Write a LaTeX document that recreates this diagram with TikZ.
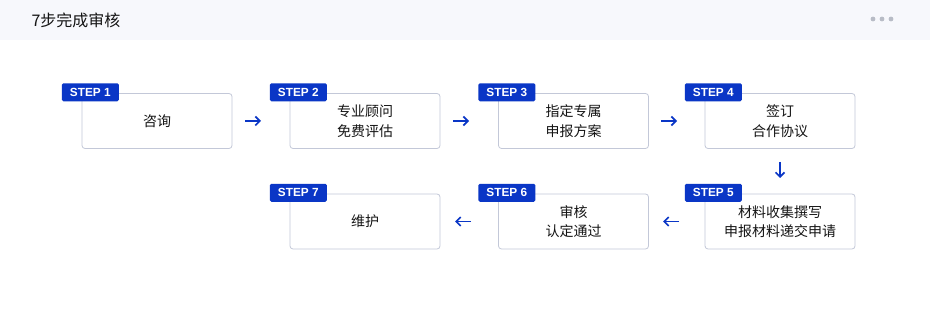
\documentclass[tikz,border=0pt]{standalone}
\usepackage{fontspec}
\setmainfont{Noto Sans CJK SC}
\newfontfamily\stepfont{Liberation Sans}
\usetikzlibrary{arrows.meta}
\definecolor{hdr}{HTML}{F7F8FC}
\definecolor{bord}{HTML}{C3C8D8}
\definecolor{stepblue}{HTML}{0A36C6}
\definecolor{txt}{HTML}{141414}
\definecolor{dotc}{HTML}{B8BCC6}
\tikzset{
  stepbox/.style={draw=bord, line width=0.8pt, rounded corners=3pt, minimum width=150pt, minimum height=55pt, align=center, font=\fontsize{14}{19.5}\selectfont, text=txt, inner sep=0pt},
  steptag/.style={fill=stepblue, rounded corners=1.5pt, minimum width=57pt, minimum height=18pt, inner sep=0pt, text=white, font=\stepfont\bfseries\fontsize{11.8}{12}\selectfont},
  flow/.style={draw=stepblue, line width=1.7pt, -{Straight Barb[length=4.5pt,width=9pt,line width=1.7pt]}}
}
\begin{document}
\begin{tikzpicture}[x=1pt,y=-1pt]
\useasboundingbox (0,0) rectangle (930,320);
\fill[white] (0,0) rectangle (930,320);
\fill[hdr] (0,0) rectangle (930,40);
\node[anchor=west, text=txt, font=\fontsize{16}{18}\selectfont] (title) at (28,20) {7步完成审核};
\foreach \i/\xx in {a/873,b/882,c/891}{\fill[dotc] (\xx,19) circle (2.4pt);}
% boxes
\node[stepbox] (b1) at (157,121) {咨询};
\node[stepbox] (b2) at (365,121) {专业顾问\\免费评估};
\node[stepbox] (b3) at (573.5,121) {指定专属\\申报方案};
\node[stepbox] (b4) at (780,121) {签订\\合作协议};
\node[stepbox] (b5) at (780,221.5) {材料收集撰写\\申报材料递交申请};
\node[stepbox] (b6) at (573.5,221.5) {审核\\认定通过};
\node[stepbox] (b7) at (365,221.5) {维护};
% tags
\foreach \n/\k in {b1/1,b2/2,b3/3,b4/4,b5/5,b6/6,b7/7}{
  \node[steptag, anchor=north west] (t\k) at ([xshift=-20pt,yshift=10pt]\n.north west) {STEP \k};
}
% arrows
\coordinate (a1s) at (245,121); \coordinate (a1e) at (261,121);
\coordinate (a2s) at (453,121); \coordinate (a2e) at (469,121);
\coordinate (a3s) at (661,121); \coordinate (a3e) at (677,121);
\coordinate (a4s) at (780,162); \coordinate (a4e) at (780,178);
\coordinate (a5s) at (679,221.5); \coordinate (a5e) at (663,221.5);
\coordinate (a6s) at (471,221.5); \coordinate (a6e) at (455,221.5);
\draw[flow] (a1s) -- (a1e);
\draw[flow] (a2s) -- (a2e);
\draw[flow] (a3s) -- (a3e);
\draw[flow] (a4s) -- (a4e);
\draw[flow] (a5s) -- (a5e);
\draw[flow] (a6s) -- (a6e);
\end{tikzpicture}
\end{document}
